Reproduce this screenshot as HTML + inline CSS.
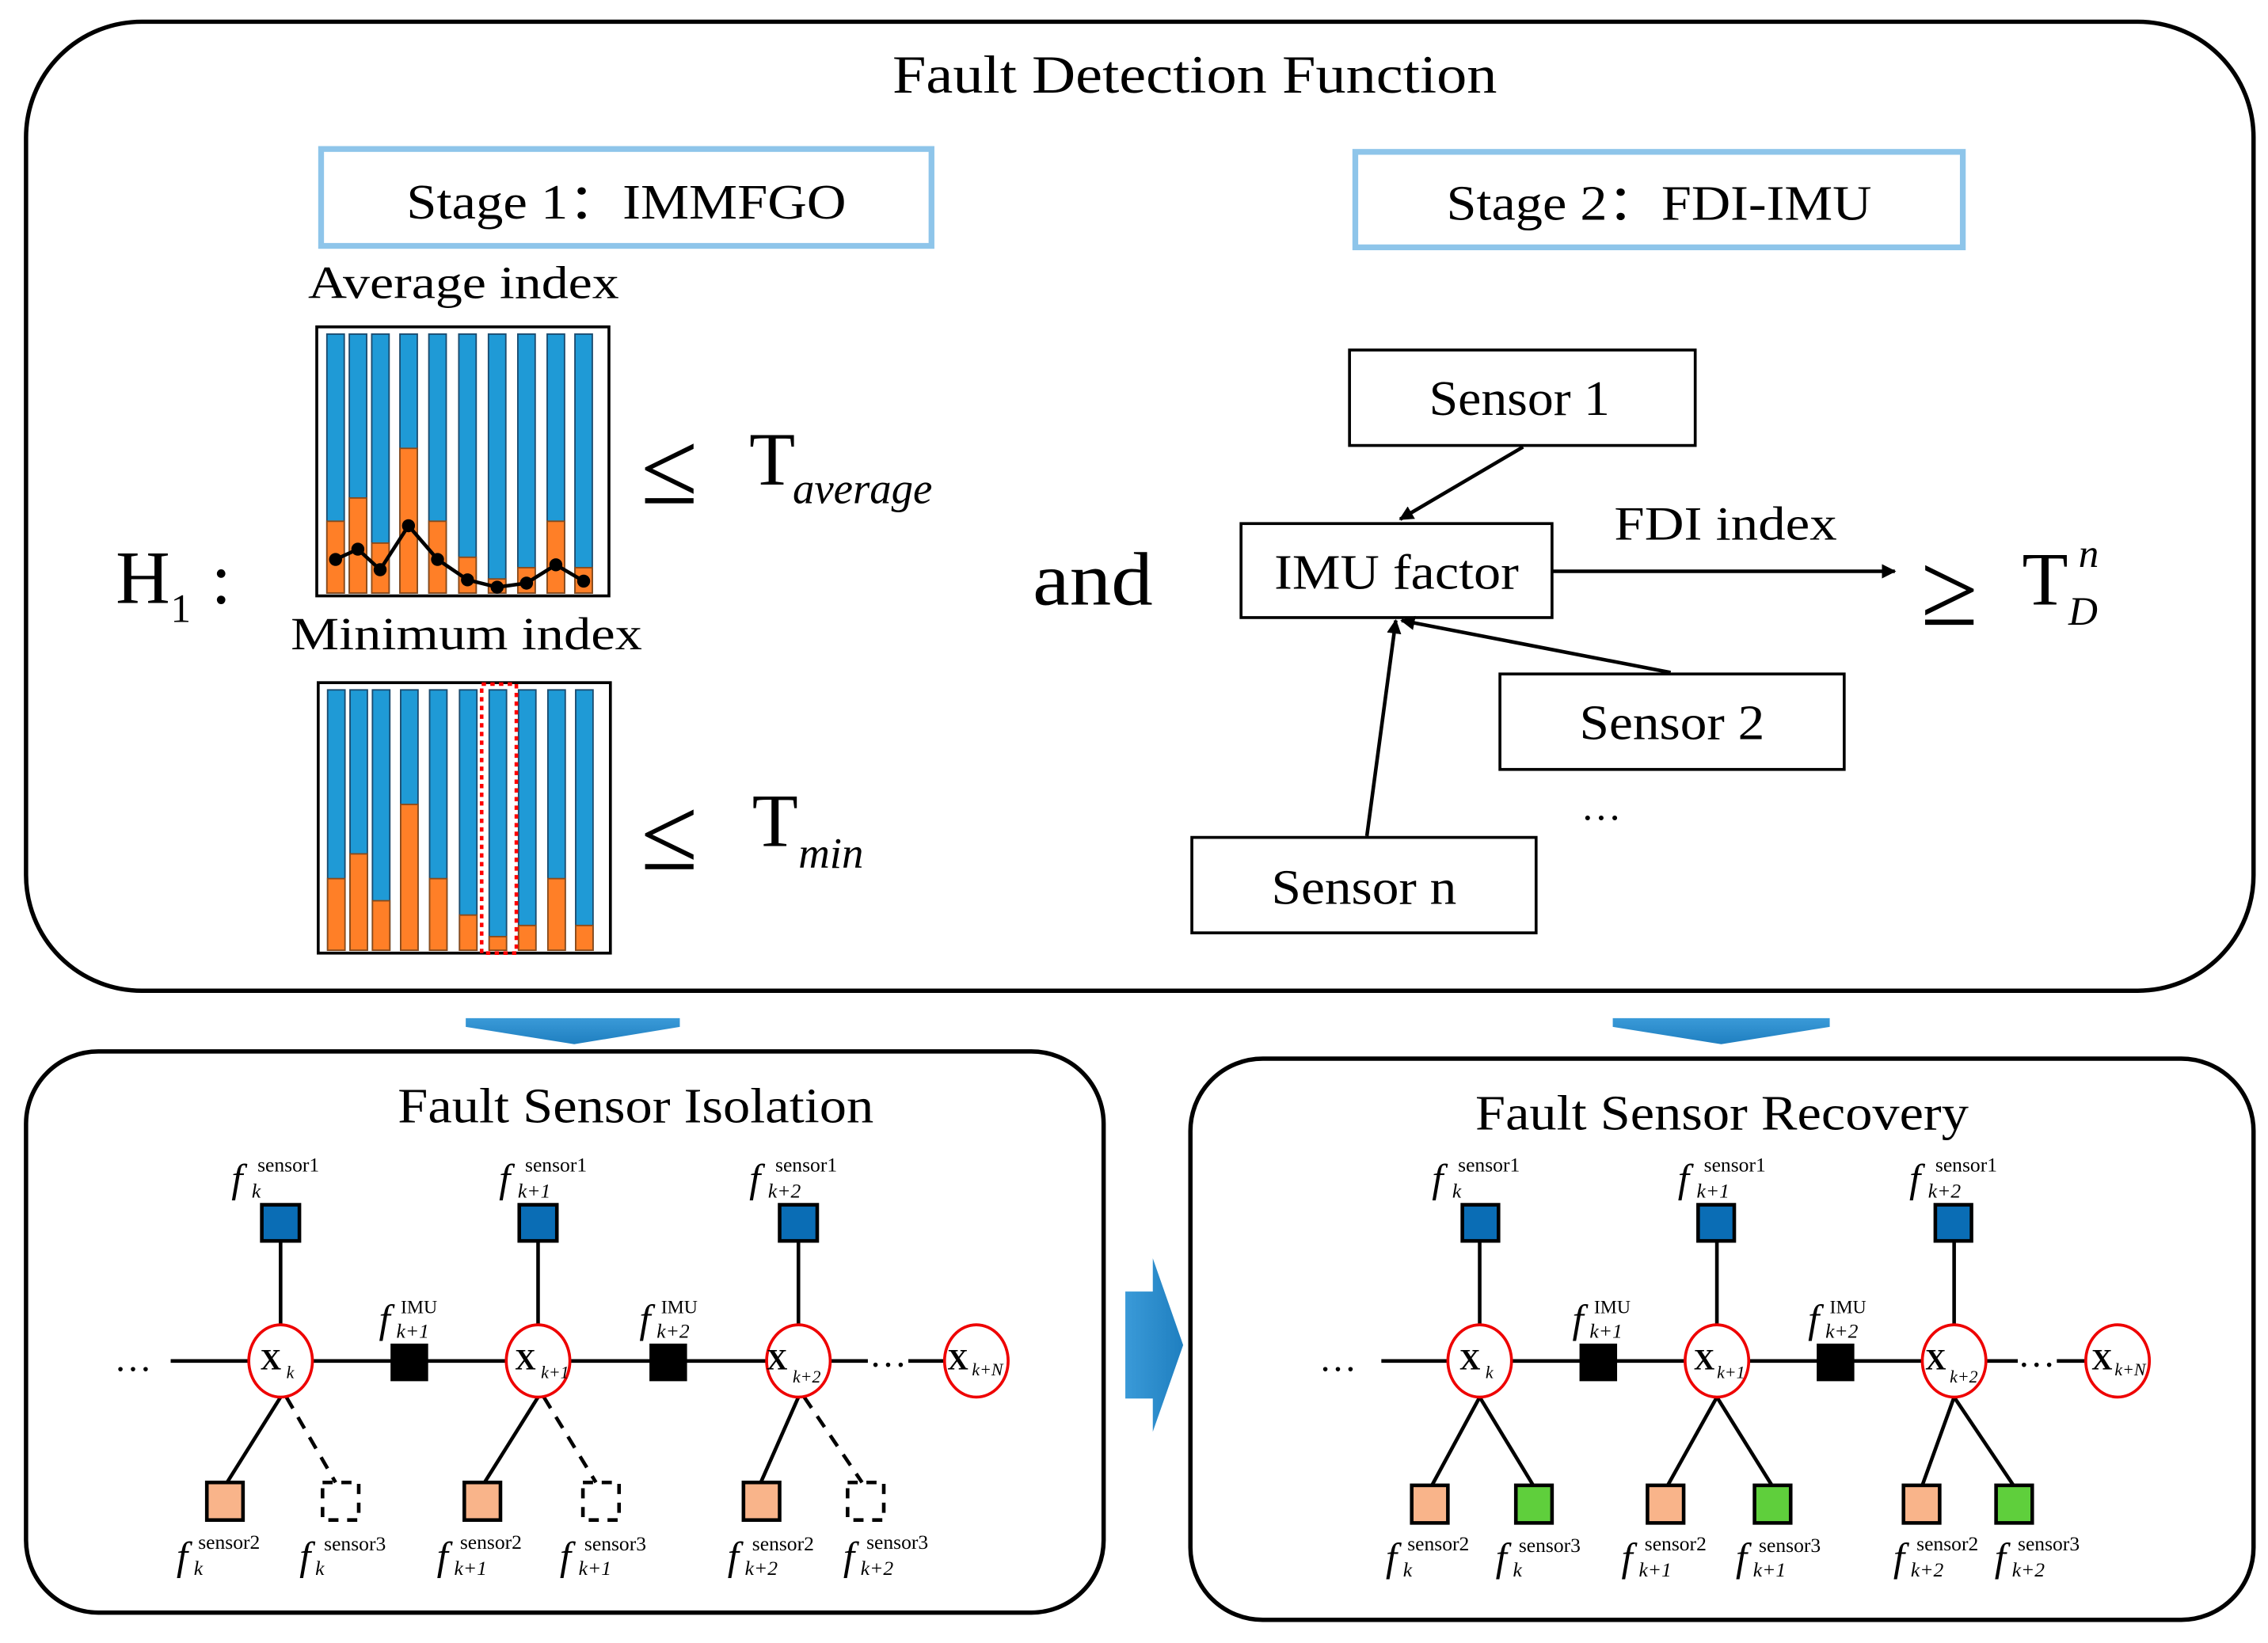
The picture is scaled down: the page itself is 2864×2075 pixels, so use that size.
<!DOCTYPE html>
<html><head><meta charset="utf-8"><style>
html,body{margin:0;padding:0;background:#fff;}
svg{display:block;}
text{font-family:"Liberation Serif",serif;fill:#000;}
.it{font-style:italic;}
</style></head><body>
<svg width="2864" height="2075" viewBox="0 0 1568 1136" xmlns="http://www.w3.org/2000/svg">
<defs>
<marker id="ah" markerWidth="10" markerHeight="10" refX="9" refY="5" orient="auto" markerUnits="userSpaceOnUse"><path d="M0,0 L10,5 L0,10 z" fill="#000"/></marker>
<linearGradient id="bg" x1="0" y1="0" x2="0" y2="1"><stop offset="0" stop-color="#3a9ad8"/><stop offset="1" stop-color="#1f7fc0"/></linearGradient>
<linearGradient id="bg2" x1="0" y1="0" x2="1" y2="0"><stop offset="0" stop-color="#3a9ad8"/><stop offset="1" stop-color="#1f7fc0"/></linearGradient>
</defs>

<!-- Top panel -->
<rect x="18" y="15" width="1540" height="670" rx="80" ry="80" fill="none" stroke="#000" stroke-width="3"/>
<text x="617" y="64" font-size="37" textLength="418" lengthAdjust="spacingAndGlyphs">Fault Detection Function</text>

<rect x="222" y="103" width="422" height="67" fill="none" stroke="#8ec5ea" stroke-width="4"/>
<text x="281" y="151" font-size="34" textLength="304" lengthAdjust="spacingAndGlyphs">Stage 1：IMMFGO</text>
<rect x="937" y="105" width="420" height="66" fill="none" stroke="#8ec5ea" stroke-width="4"/>
<text x="1000" y="152" font-size="34" textLength="294" lengthAdjust="spacingAndGlyphs">Stage 2：FDI-IMU</text>

<text x="213" y="206" font-size="32" textLength="215" lengthAdjust="spacingAndGlyphs">Average index</text>
<text x="201" y="449" font-size="32" textLength="243" lengthAdjust="spacingAndGlyphs">Minimum index</text>

<!-- top chart -->
<rect x="219" y="226" width="202" height="186" fill="#fff" stroke="#000" stroke-width="2"/>
<g stroke="#1a4a6e" stroke-width="1">
<rect x="226" y="231" width="12" height="179" fill="#1f9ad6"/>
<rect x="241.5" y="231" width="12" height="179" fill="#1f9ad6"/>
<rect x="257" y="231" width="12" height="179" fill="#1f9ad6"/>
<rect x="276.5" y="231" width="12" height="179" fill="#1f9ad6"/>
<rect x="296.5" y="231" width="12" height="179" fill="#1f9ad6"/>
<rect x="317.2" y="231" width="12" height="179" fill="#1f9ad6"/>
<rect x="337.7" y="231" width="12" height="179" fill="#1f9ad6"/>
<rect x="358" y="231" width="12" height="179" fill="#1f9ad6"/>
<rect x="378.3" y="231" width="12" height="179" fill="#1f9ad6"/>
<rect x="397.5" y="231" width="12" height="179" fill="#1f9ad6"/>
</g>
<g fill="#ff7f27" stroke="#8a4a1a" stroke-width="1">
<rect x="226" y="360.4" width="12" height="49.6"/>
<rect x="241.5" y="344.3" width="12" height="65.7"/>
<rect x="257" y="375.5" width="12" height="34.5"/>
<rect x="276.5" y="310" width="12" height="100"/>
<rect x="296.5" y="360.4" width="12" height="49.6"/>
<rect x="317.2" y="385.3" width="12" height="24.7"/>
<rect x="337.7" y="400.3" width="12" height="9.7"/>
<rect x="358" y="392.5" width="12" height="17.5"/>
<rect x="378.3" y="360.4" width="12" height="49.6"/>
<rect x="397.5" y="392.5" width="12" height="17.5"/>
</g>
<polyline points="232,386.8 247.4,379.7 262.8,393.9 282.4,363.5 302.5,386.8 323.2,400.9 343.7,406 364,403.2 384.3,390.5 403.5,401.8" fill="none" stroke="#000" stroke-width="2.5"/>
<g fill="#000">
<circle cx="232" cy="386.8" r="4.5"/><circle cx="247.4" cy="379.7" r="4.5"/><circle cx="262.8" cy="393.9" r="4.5"/><circle cx="282.4" cy="363.5" r="4.5"/><circle cx="302.5" cy="386.8" r="4.5"/><circle cx="323.2" cy="400.9" r="4.5"/><circle cx="343.7" cy="406" r="4.5"/><circle cx="364" cy="403.2" r="4.5"/><circle cx="384.3" cy="390.5" r="4.5"/><circle cx="403.5" cy="401.8" r="4.5"/>
</g>

<!-- bottom chart -->
<rect x="220" y="472" width="202" height="187" fill="#fff" stroke="#000" stroke-width="2"/>
<g stroke="#1a4a6e" stroke-width="1">
<rect x="226.5" y="477" width="12" height="180" fill="#1f9ad6"/>
<rect x="242" y="477" width="12" height="180" fill="#1f9ad6"/>
<rect x="257.5" y="477" width="12" height="180" fill="#1f9ad6"/>
<rect x="277" y="477" width="12" height="180" fill="#1f9ad6"/>
<rect x="297" y="477" width="12" height="180" fill="#1f9ad6"/>
<rect x="317.7" y="477" width="12" height="180" fill="#1f9ad6"/>
<rect x="338.2" y="477" width="12" height="180" fill="#1f9ad6"/>
<rect x="358.5" y="477" width="12" height="180" fill="#1f9ad6"/>
<rect x="378.8" y="477" width="12" height="180" fill="#1f9ad6"/>
<rect x="398" y="477" width="12" height="180" fill="#1f9ad6"/>
</g>
<g fill="#ff7f27" stroke="#8a4a1a" stroke-width="1">
<rect x="226.5" y="607.5" width="12" height="49.5"/>
<rect x="242" y="590.4" width="12" height="66.6"/>
<rect x="257.5" y="622.8" width="12" height="34.2"/>
<rect x="277" y="556.2" width="12" height="100.8"/>
<rect x="297" y="607.5" width="12" height="49.5"/>
<rect x="317.7" y="632.7" width="12" height="24.3"/>
<rect x="338.2" y="647.6" width="12" height="9.4"/>
<rect x="358.5" y="639.9" width="12" height="17.1"/>
<rect x="378.8" y="607.5" width="12" height="49.5"/>
<rect x="398" y="639.9" width="12" height="17.1"/>
</g>
<rect x="333" y="473" width="24" height="186" fill="none" stroke="#ff0000" stroke-width="2.5" stroke-dasharray="3,3"/>

<!-- H1 and inequalities -->
<text x="80" y="417" font-size="52">H</text><text x="118" y="430" font-size="28">1</text><text x="146" y="417" font-size="50">:</text>
<text x="443" y="348" font-size="72">≤</text>
<text x="518" y="335" font-size="52">T</text><text x="548" y="348" font-size="30" class="it">average</text>
<text x="443" y="601" font-size="72">≤</text>
<text x="520" y="585" font-size="52">T</text><text x="552" y="600" font-size="30" class="it">min</text>
<text x="714" y="418" font-size="52" textLength="83" lengthAdjust="spacingAndGlyphs">and</text>

<!-- Stage 2 diagram -->
<rect x="933" y="242" width="239" height="66" fill="#fff" stroke="#000" stroke-width="2"/>
<text x="988" y="287" font-size="34" textLength="125" lengthAdjust="spacingAndGlyphs">Sensor 1</text>
<rect x="858" y="362" width="215" height="65" fill="#fff" stroke="#000" stroke-width="2"/>
<text x="881" y="407" font-size="34" textLength="169" lengthAdjust="spacingAndGlyphs">IMU factor</text>
<rect x="1037" y="466" width="238" height="66" fill="#fff" stroke="#000" stroke-width="2"/>
<text x="1092" y="511" font-size="34" textLength="128" lengthAdjust="spacingAndGlyphs">Sensor 2</text>
<rect x="824" y="579" width="238" height="66" fill="#fff" stroke="#000" stroke-width="2"/>
<text x="879" y="625" font-size="34" textLength="128" lengthAdjust="spacingAndGlyphs">Sensor n</text>
<text x="1107" y="567" font-size="28" text-anchor="middle">…</text>
<text x="1116" y="373" font-size="33" textLength="154" lengthAdjust="spacingAndGlyphs">FDI index</text>
<line x1="1073" y1="395" x2="1310" y2="395" stroke="#000" stroke-width="2.5" marker-end="url(#ah)"/>
<line x1="1053" y1="309" x2="968" y2="359" stroke="#000" stroke-width="2.5" marker-end="url(#ah)"/>
<line x1="1155" y1="465" x2="969" y2="429" stroke="#000" stroke-width="2.5" marker-end="url(#ah)"/>
<line x1="945" y1="578" x2="965" y2="429" stroke="#000" stroke-width="2.5" marker-end="url(#ah)"/>
<text x="1328" y="432" font-size="72">≥</text>
<text x="1398" y="418" font-size="52">T</text><text x="1437" y="392" font-size="28" class="it">n</text><text x="1430" y="432" font-size="28" class="it">D</text>

<!-- blue arrows -->
<path d="M322,704 L470,704 L470,710 L397,722 L322,710 z" fill="url(#bg)"/>
<path d="M1115,704 L1265,704 L1265,710 L1190,722 L1115,710 z" fill="url(#bg)"/>
<path d="M778,893 L797,893 L797,870 L818,930 L797,990 L797,967 L778,967 z" fill="url(#bg2)"/>

<!-- Bottom left panel -->
<rect x="18" y="727" width="745" height="388" rx="50" ry="50" fill="none" stroke="#000" stroke-width="3"/>
<text x="275" y="776" font-size="34" textLength="329" lengthAdjust="spacingAndGlyphs">Fault Sensor Isolation</text>
<text x="92" y="948" font-size="26" text-anchor="middle">…</text>
<line x1="118" y1="941" x2="600" y2="941" stroke="#000" stroke-width="2.5"/>
<line x1="628" y1="941" x2="655" y2="941" stroke="#000" stroke-width="2.5"/>
<text x="614" y="945" font-size="26" text-anchor="middle">…</text>
<g stroke="#000" stroke-width="2.5">
<line x1="194" y1="858" x2="194" y2="917"/><line x1="372" y1="858" x2="372" y2="917"/><line x1="552" y1="858" x2="552" y2="917"/>
<line x1="194" y1="966" x2="157" y2="1025"/><line x1="372" y1="966" x2="335" y2="1025"/><line x1="552" y1="966" x2="526" y2="1025"/>
</g>
<g stroke="#000" stroke-width="2.5" stroke-dasharray="9,7">
<line x1="198" y1="966" x2="232" y2="1025"/><line x1="376" y1="966" x2="412" y2="1025"/><line x1="556" y1="966" x2="596" y2="1025"/>
</g>
<g fill="#fff" stroke="#e00" stroke-width="2">
<ellipse cx="194" cy="941" rx="22" ry="25"/><ellipse cx="372" cy="941" rx="22" ry="25"/><ellipse cx="552" cy="941" rx="22" ry="25"/><ellipse cx="675" cy="941" rx="22" ry="25"/>
</g>
<g fill="#000"><rect x="270" y="929" width="26" height="26"/><rect x="449" y="929" width="26" height="26"/></g>
<g fill="#0a6db5" stroke="#000" stroke-width="2.5"><rect x="181" y="833" width="26" height="25"/><rect x="359" y="833" width="26" height="25"/><rect x="539" y="833" width="26" height="25"/></g>
<g fill="#f9b48a" stroke="#000" stroke-width="2.5"><rect x="143" y="1025" width="25" height="26"/><rect x="321" y="1025" width="25" height="26"/><rect x="514" y="1025" width="25" height="26"/></g>
<g fill="none" stroke="#000" stroke-width="2.5" stroke-dasharray="7,6"><rect x="223" y="1025" width="25" height="26"/><rect x="403" y="1025" width="25" height="26"/><rect x="586" y="1025" width="25" height="26"/></g>
<g font-size="20" font-weight="bold">
<text x="180" y="947">X</text><text x="356" y="947">X</text><text x="530" y="947">X</text><text x="655" y="947">X</text>
</g>
<g font-size="12" class="it">
<text x="198" y="953">k</text><text x="374" y="953">k+1</text><text x="548" y="956">k+2</text><text x="672" y="951">k+N</text>
</g>
<g>
<text x="160" y="824" font-size="28" class="it">f</text><text x="178" y="810" font-size="14">sensor1</text><text x="174" y="828" font-size="14" class="it">k</text>
<text x="345" y="824" font-size="28" class="it">f</text><text x="363" y="810" font-size="14">sensor1</text><text x="358" y="828" font-size="14" class="it">k+1</text>
<text x="518" y="824" font-size="28" class="it">f</text><text x="536" y="810" font-size="14">sensor1</text><text x="531" y="828" font-size="14" class="it">k+2</text>
<text x="262" y="921" font-size="28" class="it">f</text><text x="277" y="908" font-size="13">IMU</text><text x="274" y="925" font-size="14" class="it">k+1</text>
<text x="442" y="921" font-size="28" class="it">f</text><text x="457" y="908" font-size="13">IMU</text><text x="454" y="925" font-size="14" class="it">k+2</text>
<text x="122" y="1085" font-size="28" class="it">f</text><text x="137" y="1071" font-size="14">sensor2</text><text x="134" y="1089" font-size="14" class="it">k</text>
<text x="207" y="1085" font-size="28" class="it">f</text><text x="224" y="1072" font-size="14">sensor3</text><text x="218" y="1089" font-size="14" class="it">k</text>
<text x="302" y="1085" font-size="28" class="it">f</text><text x="318" y="1071" font-size="14">sensor2</text><text x="314" y="1089" font-size="14" class="it">k+1</text>
<text x="387" y="1085" font-size="28" class="it">f</text><text x="404" y="1072" font-size="14">sensor3</text><text x="400" y="1089" font-size="14" class="it">k+1</text>
<text x="503" y="1085" font-size="28" class="it">f</text><text x="520" y="1072" font-size="14">sensor2</text><text x="515" y="1089" font-size="14" class="it">k+2</text>
<text x="583" y="1085" font-size="28" class="it">f</text><text x="599" y="1071" font-size="14">sensor3</text><text x="595" y="1089" font-size="14" class="it">k+2</text>
</g>

<!-- Bottom right panel -->
<rect x="823" y="732" width="735" height="388" rx="50" ry="50" fill="none" stroke="#000" stroke-width="3"/>
<text x="1020" y="781" font-size="34" textLength="341" lengthAdjust="spacingAndGlyphs">Fault Sensor Recovery</text>
<text x="925" y="948" font-size="26" text-anchor="middle">…</text>
<line x1="955" y1="941" x2="1395" y2="941" stroke="#000" stroke-width="2.5"/>
<line x1="1422" y1="941" x2="1444" y2="941" stroke="#000" stroke-width="2.5"/>
<text x="1408" y="945" font-size="26" text-anchor="middle">…</text>
<g stroke="#000" stroke-width="2.5">
<line x1="1023" y1="858" x2="1023" y2="917"/><line x1="1187" y1="858" x2="1187" y2="917"/><line x1="1351" y1="858" x2="1351" y2="917"/>
<line x1="1023" y1="966" x2="990" y2="1027"/><line x1="1023" y1="966" x2="1060" y2="1027"/>
<line x1="1187" y1="966" x2="1153" y2="1027"/><line x1="1187" y1="966" x2="1225" y2="1027"/>
<line x1="1351" y1="966" x2="1329" y2="1027"/><line x1="1351" y1="966" x2="1392" y2="1027"/>
</g>
<g fill="#fff" stroke="#e00" stroke-width="2">
<ellipse cx="1023" cy="941" rx="22" ry="25"/><ellipse cx="1187" cy="941" rx="22" ry="25"/><ellipse cx="1351" cy="941" rx="22" ry="25"/><ellipse cx="1464" cy="941" rx="22" ry="25"/>
</g>
<g fill="#000"><rect x="1092" y="929" width="26" height="26"/><rect x="1256" y="929" width="26" height="26"/></g>
<g fill="#0a6db5" stroke="#000" stroke-width="2.5"><rect x="1011" y="833" width="25" height="25"/><rect x="1174" y="833" width="25" height="25"/><rect x="1338" y="833" width="25" height="25"/></g>
<g fill="#f9b48a" stroke="#000" stroke-width="2.5"><rect x="976" y="1027" width="25" height="26"/><rect x="1139" y="1027" width="25" height="26"/><rect x="1316" y="1027" width="25" height="26"/></g>
<g fill="#5fcf3c" stroke="#000" stroke-width="2.5"><rect x="1048" y="1027" width="25" height="26"/><rect x="1213" y="1027" width="25" height="26"/><rect x="1380" y="1027" width="25" height="26"/></g>
<g font-size="20" font-weight="bold">
<text x="1009" y="947">X</text><text x="1171" y="947">X</text><text x="1331" y="947">X</text><text x="1446" y="947">X</text>
</g>
<g font-size="12" class="it">
<text x="1027" y="953">k</text><text x="1187" y="953">k+1</text><text x="1348" y="956">k+2</text><text x="1462" y="951">k+N</text>
</g>
<g>
<text x="990" y="824" font-size="28" class="it">f</text><text x="1008" y="810" font-size="14">sensor1</text><text x="1004" y="828" font-size="14" class="it">k</text>
<text x="1160" y="824" font-size="28" class="it">f</text><text x="1178" y="810" font-size="14">sensor1</text><text x="1173" y="828" font-size="14" class="it">k+1</text>
<text x="1320" y="824" font-size="28" class="it">f</text><text x="1338" y="810" font-size="14">sensor1</text><text x="1333" y="828" font-size="14" class="it">k+2</text>
<text x="1087" y="921" font-size="28" class="it">f</text><text x="1102" y="908" font-size="13">IMU</text><text x="1099" y="925" font-size="14" class="it">k+1</text>
<text x="1250" y="921" font-size="28" class="it">f</text><text x="1265" y="908" font-size="13">IMU</text><text x="1262" y="925" font-size="14" class="it">k+2</text>
<text x="958" y="1086" font-size="28" class="it">f</text><text x="973" y="1072" font-size="14">sensor2</text><text x="970" y="1090" font-size="14" class="it">k</text>
<text x="1034" y="1086" font-size="28" class="it">f</text><text x="1050" y="1073" font-size="14">sensor3</text><text x="1046" y="1090" font-size="14" class="it">k</text>
<text x="1121" y="1086" font-size="28" class="it">f</text><text x="1137" y="1072" font-size="14">sensor2</text><text x="1133" y="1090" font-size="14" class="it">k+1</text>
<text x="1200" y="1086" font-size="28" class="it">f</text><text x="1216" y="1073" font-size="14">sensor3</text><text x="1212" y="1090" font-size="14" class="it">k+1</text>
<text x="1309" y="1086" font-size="28" class="it">f</text><text x="1325" y="1072" font-size="14">sensor2</text><text x="1321" y="1090" font-size="14" class="it">k+2</text>
<text x="1379" y="1086" font-size="28" class="it">f</text><text x="1395" y="1072" font-size="14">sensor3</text><text x="1391" y="1090" font-size="14" class="it">k+2</text>
</g>
</svg>
</body></html>
